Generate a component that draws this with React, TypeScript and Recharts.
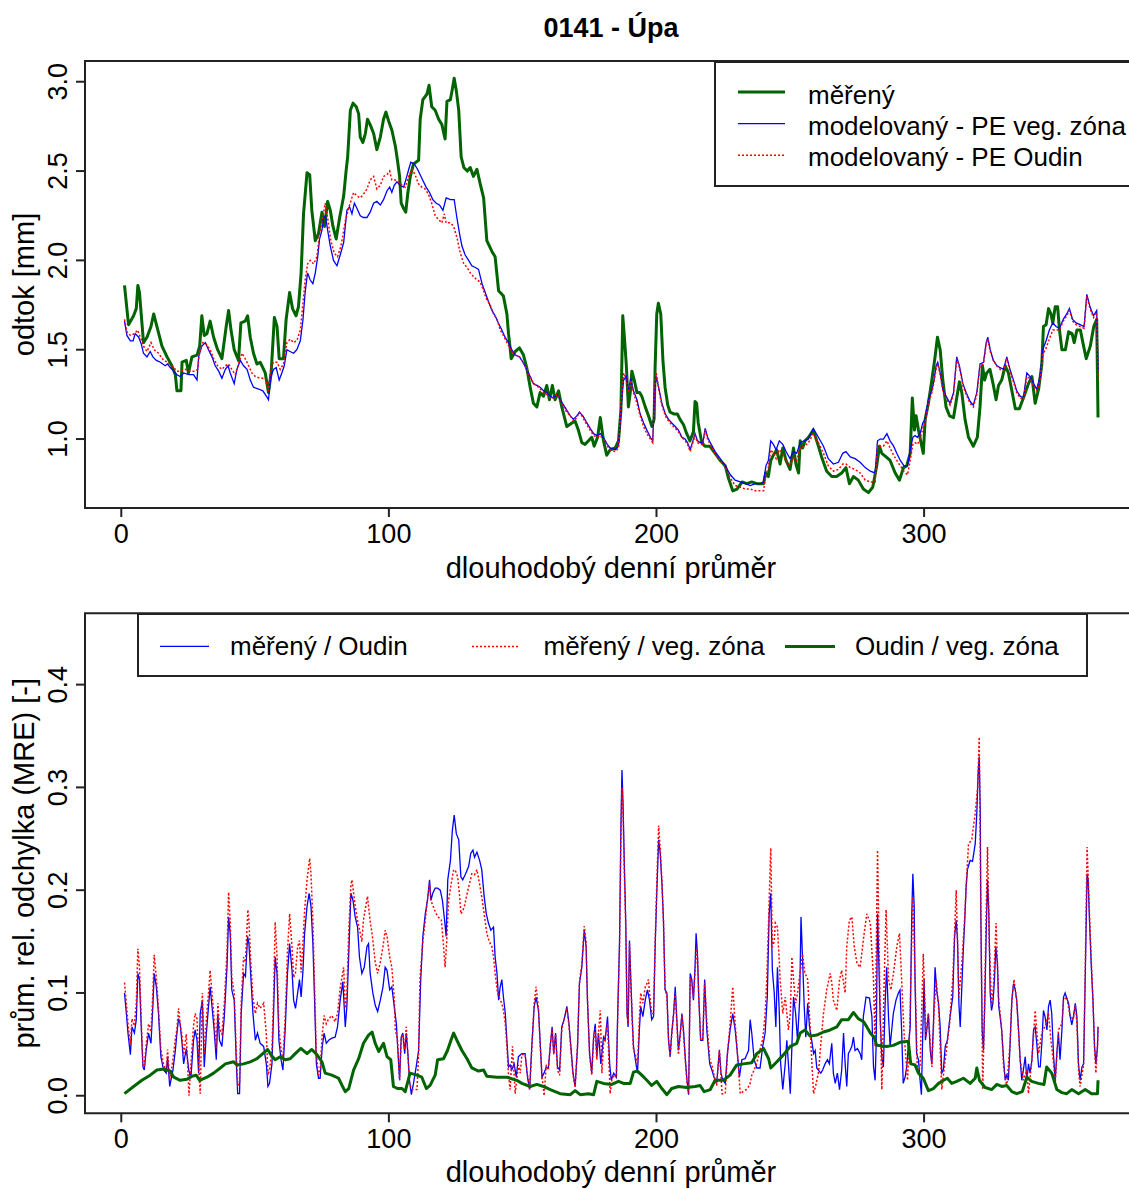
import React from "react";
import { LineChart, Line, XAxis, YAxis, ReferenceArea, Legend } from "recharts";

const FONT = '"Liberation Sans", Arial, sans-serif';
const GREEN = "#006400";
const BLUE = "#0000FF";
const RED = "#FF0000";
const INK = "#222";

// top panel: long-term daily mean runoff [day, mm]
const measured: [number, number][] = [
  [1.2,1.86],[2.7,1.64],[4.6,1.69],[5.6,1.73],[6.2,1.86],[6.8,1.82],[7.5,1.69],[8.3,1.54],[9.6,1.57],[11.1,1.63],[12.1,1.70],[13.3,1.63],[15.2,1.52],[17.1,1.46],[18.9,1.41],[20.2,1.36],[20.8,1.27],[22.3,1.27],[22.7,1.43],[24.3,1.44],[25.1,1.37],[26.4,1.46],[28.3,1.47],[29.3,1.52],[30.1,1.69],[31,1.58],[32,1.59],[33.2,1.66],[34.5,1.57],[36,1.50],[37.6,1.45],[39.2,1.63],[40.1,1.72],[41,1.61],[42.2,1.50],[43.8,1.44],[44.7,1.65],[46.3,1.66],[47.2,1.69],[48.2,1.57],[49.4,1.48],[50.7,1.42],[51.9,1.43],[53.8,1.37],[55,1.26],[56,1.37],[57.2,1.68],[58.2,1.63],[59,1.45],[60.6,1.45],[61.6,1.67],[62.9,1.82],[64,1.73],[65.3,1.69],[66.2,1.74],[67.2,1.93],[68.1,2.26],[69.4,2.49],[70.4,2.48],[71.2,2.28],[72.5,2.11],[73.7,2.15],[75,2.27],[76,2.19],[77.1,2.33],[78.1,2.28],[79.1,2.19],[80.3,2.12],[81.6,2.24],[83.1,2.36],[84,2.50],[84.6,2.58],[85.6,2.84],[86.6,2.88],[87.8,2.86],[88.7,2.82],[89.3,2.69],[90.3,2.66],[91.2,2.71],[92,2.79],[93,2.76],[94.3,2.71],[95.5,2.62],[96.8,2.69],[98,2.79],[98.9,2.83],[99.9,2.78],[101.1,2.73],[102.4,2.64],[103.2,2.56],[104,2.47],[104.6,2.32],[105.5,2.29],[106.3,2.27],[107.1,2.38],[108,2.47],[109.2,2.54],[111.1,2.56],[111.7,2.79],[112.7,2.90],[114.2,2.93],[115,2.98],[116,2.86],[117.3,2.84],[118.6,2.79],[119.8,2.76],[121,2.68],[121.7,2.89],[123,2.90],[123.6,2.95],[124.4,3.02],[125.2,2.95],[126.1,2.84],[127,2.58],[128,2.52],[129.3,2.50],[130.4,2.52],[131.6,2.47],[132.9,2.51],[134.1,2.43],[135.4,2.35],[136.6,2.11],[138.5,2.05],[139.7,2.02],[141,1.83],[142.8,1.80],[144.1,1.70],[144.7,1.59],[145.3,1.51],[145.7,1.45],[147.2,1.49],[148.8,1.51],[150.3,1.47],[151.5,1.40],[152.8,1.29],[154,1.20],[155.3,1.18],[156.5,1.26],[157.8,1.24],[159,1.30],[160,1.22],[161.1,1.30],[162.1,1.22],[163.4,1.27],[164.6,1.18],[166.5,1.07],[168.4,1.09],[169.6,1.10],[170.8,1.05],[172.1,0.98],[173.3,0.97],[174.6,0.99],[175.8,1.01],[176.7,0.96],[178,1.01],[179,1.12],[180.2,0.99],[181.4,0.91],[182.7,0.94],[184.6,0.95],[185.8,0.99],[186.7,1.16],[187.4,1.69],[188,1.57],[188.7,1.42],[189.5,1.18],[190.2,1.26],[190.8,1.38],[191.7,1.33],[192.7,1.26],[193.7,1.26],[194.5,1.24],[195.8,1.18],[197,1.13],[198.3,1.07],[199.1,1.11],[199.5,1.41],[200.1,1.70],[200.7,1.76],[201.6,1.70],[202.4,1.44],[203.2,1.29],[204.2,1.19],[205.1,1.15],[206.6,1.14],[207.8,1.14],[208.8,1.11],[210.1,1.08],[211.3,1.03],[212.5,0.99],[213.8,1.04],[214.4,1.21],[215,1.20],[215.6,1.09],[216.9,0.98],[218.1,0.96],[219.9,0.96],[221.9,0.92],[223.8,0.88],[225.7,0.85],[226.9,0.78],[228.5,0.71],[230.1,0.72],[232,0.76],[233.8,0.75],[235.6,0.76],[237.5,0.75],[240,0.75],[240.8,0.81],[241.8,0.79],[242.7,0.88],[243.7,0.91],[244.9,0.94],[246.2,0.86],[247.2,0.95],[248.4,0.88],[249.9,0.83],[251.2,0.95],[252.1,0.86],[253.1,0.81],[253.7,0.99],[254.6,0.95],[255.5,0.99],[256.8,1.01],[258.6,1.05],[260.1,0.98],[261.7,0.90],[263.6,0.82],[265.5,0.79],[267.3,0.79],[269.2,0.81],[270.8,0.84],[272.1,0.75],[273.6,0.79],[275.4,0.77],[277.3,0.72],[279.2,0.70],[280.8,0.73],[282.3,0.85],[283.3,0.96],[284.2,0.92],[285.8,0.90],[287.3,0.88],[289.2,0.81],[290.8,0.77],[292.3,0.84],[293.5,0.85],[294.8,0.92],[295.6,1.23],[296.4,1.05],[297,1.13],[297.9,1.05],[298.7,0.99],[299.7,0.92],[300.4,1.11],[301.6,1.20],[302.9,1.33],[304.1,1.46],[305,1.57],[306,1.50],[307,1.33],[308.2,1.18],[309.5,1.13],[311,1.12],[312.3,1.24],[313.2,1.32],[314.1,1.26],[315.3,1.11],[316.6,1.01],[318.4,0.96],[319.9,1.01],[320.9,1.18],[321.8,1.41],[322.6,1.33],[323.4,1.37],[324.6,1.39],[325.9,1.30],[326.9,1.22],[327.8,1.30],[329,1.33],[330.3,1.41],[331.5,1.37],[332.8,1.27],[334.1,1.17],[335.6,1.17],[337.1,1.23],[339,1.31],[340.3,1.35],[341.5,1.20],[342.8,1.28],[344,1.42],[344.6,1.63],[345.6,1.64],[346.5,1.73],[347.4,1.70],[348.1,1.65],[349,1.74],[349.9,1.74],[350.6,1.61],[351.5,1.50],[352.8,1.50],[354,1.60],[355.3,1.59],[356.1,1.54],[357.1,1.61],[358.4,1.61],[359.6,1.52],[360.6,1.45],[362.1,1.52],[363.4,1.63],[364.5,1.67],[365,1.12],
];

const modelVeg: [number, number][] = [
  [1.2,1.66],[2.1,1.58],[3.4,1.55],[4.4,1.55],[5.2,1.59],[6.5,1.57],[7.5,1.53],[8.3,1.48],[9.6,1.46],[10.8,1.49],[11.8,1.46],[13.1,1.44],[14.6,1.43],[16.4,1.41],[17.3,1.42],[18.3,1.40],[19.6,1.38],[20.8,1.36],[22,1.35],[23.3,1.37],[25.2,1.36],[27,1.36],[28.3,1.33],[28.9,1.46],[30.1,1.52],[31.4,1.54],[32.6,1.50],[33.9,1.46],[35.1,1.41],[36.4,1.38],[37.6,1.34],[38.9,1.39],[39.9,1.41],[40.7,1.37],[42.2,1.31],[43.2,1.39],[44.5,1.44],[45.7,1.41],[47,1.39],[48.2,1.33],[49.4,1.29],[51.3,1.28],[52.9,1.27],[54.2,1.24],[55,1.22],[55.9,1.35],[56.9,1.39],[57.9,1.40],[59,1.33],[60,1.37],[60.9,1.41],[61.9,1.50],[63.1,1.49],[64.4,1.48],[65.6,1.50],[66.9,1.55],[67.9,1.67],[68.7,1.82],[69.6,1.93],[70.6,1.89],[71.6,1.87],[72.5,1.93],[73.4,2.02],[74.1,2.12],[75,2.17],[75.6,2.24],[76.3,2.25],[77.1,2.17],[78.1,2.08],[79.3,2.00],[80.6,1.97],[81.8,2.03],[83.1,2.10],[84.3,2.28],[85.3,2.30],[86.2,2.26],[87.1,2.32],[88.1,2.29],[89.3,2.25],[90.5,2.24],[91.8,2.24],[93,2.27],[94.3,2.32],[95.5,2.33],[96.8,2.31],[98,2.34],[99.3,2.39],[100.3,2.41],[101.1,2.38],[102,2.42],[103,2.44],[104.2,2.42],[105.5,2.41],[106.7,2.47],[107.6,2.52],[108.2,2.55],[109.5,2.54],[110.7,2.51],[112.3,2.46],[113.9,2.41],[115.2,2.38],[116.4,2.34],[117.7,2.32],[118.9,2.31],[120.2,2.28],[121.4,2.35],[123,2.34],[124.4,2.34],[125.4,2.24],[126.4,2.15],[127.3,2.08],[128.5,2.03],[129.8,2.00],[131,1.97],[132.3,1.96],[133.5,1.95],[134.8,1.87],[136,1.82],[137.2,1.77],[138.5,1.72],[139.7,1.69],[140.9,1.65],[142.2,1.61],[143.4,1.57],[144.7,1.54],[145.9,1.50],[147.2,1.47],[148.8,1.46],[150.1,1.43],[151.5,1.39],[152.8,1.35],[154,1.31],[155.3,1.30],[156.5,1.29],[157.8,1.27],[159,1.26],[160.3,1.24],[161.5,1.23],[162.8,1.25],[164,1.22],[165.3,1.19],[166.5,1.16],[167.8,1.13],[169,1.11],[170.2,1.13],[171.2,1.15],[172.5,1.13],[174,1.09],[175.2,1.06],[176.5,1.03],[177.7,1.02],[179,1.03],[180.5,1.00],[181.6,0.97],[182.7,0.95],[184.6,0.94],[185.8,0.96],[186.7,1.16],[187.7,1.33],[188.7,1.35],[189.5,1.27],[190.4,1.34],[191.4,1.27],[192.7,1.22],[193.9,1.14],[195.2,1.09],[196.4,1.05],[197.7,1.01],[198.6,0.99],[199.3,1.27],[199.9,1.35],[200.8,1.29],[202,1.20],[203.3,1.14],[204.5,1.11],[205.7,1.09],[207,1.07],[208.2,1.05],[209.5,1.01],[210.7,1.00],[211.6,0.98],[212.6,0.94],[213.6,0.99],[214.4,1.03],[215.3,0.99],[216.3,0.98],[217.3,0.98],[218.2,1.06],[219.1,1.01],[220.1,0.98],[221.9,0.93],[223.8,0.89],[225.7,0.85],[227.6,0.80],[229.4,0.77],[231.3,0.76],[233.2,0.75],[235.1,0.74],[236.9,0.75],[238.8,0.75],[240,0.76],[240.9,0.85],[241.8,0.88],[242.7,0.99],[243.7,0.97],[244.7,0.94],[245.9,0.99],[247.2,0.97],[248.4,0.93],[249.9,0.89],[251.2,0.93],[252.4,0.92],[253.7,0.98],[255.2,0.99],[256.8,1.00],[258.6,1.06],[260.5,1.01],[262.4,0.96],[264.2,0.89],[266.1,0.86],[268,0.87],[269.6,0.92],[270.8,0.93],[272.4,0.90],[274.2,0.89],[276.1,0.87],[278,0.84],[279.9,0.82],[281.7,0.81],[282.6,0.99],[283.6,1.00],[284.8,1.00],[286.1,1.03],[287.3,0.99],[288.6,0.96],[289.8,0.92],[291.1,0.88],[292.5,0.85],[293.8,0.85],[294.8,0.94],[295.8,1.01],[296.6,1.02],[297.5,1.01],[298.5,1.03],[299.5,1.09],[300.4,1.11],[301.6,1.22],[302.9,1.27],[303.7,1.33],[304.5,1.41],[305.1,1.43],[306,1.37],[307,1.28],[308.2,1.24],[309.7,1.20],[311,1.26],[312.2,1.46],[313.2,1.41],[314.5,1.31],[315.7,1.26],[317.2,1.21],[318.4,1.19],[319.7,1.26],[320.9,1.42],[322.2,1.43],[323.2,1.54],[323.8,1.57],[324.7,1.50],[325.9,1.44],[327.2,1.41],[328.4,1.40],[329.7,1.39],[330.9,1.46],[332.1,1.39],[333.4,1.33],[334.6,1.27],[335.9,1.24],[337.1,1.23],[338.4,1.37],[339.6,1.35],[340.9,1.31],[342.1,1.28],[343.4,1.35],[344.3,1.50],[345.6,1.55],[346.8,1.61],[348.1,1.65],[349.3,1.63],[350.6,1.62],[352,1.67],[353.3,1.70],[354.3,1.73],[355.5,1.67],[356.8,1.65],[358.3,1.64],[359.8,1.63],[360.8,1.81],[362,1.74],[363.3,1.69],[364.5,1.72],[365,1.38],
];

const modelOudin: [number, number][] = [
  [1.2,1.67],[2.1,1.60],[3.4,1.58],[5,1.59],[6.1,1.61],[7.1,1.57],[8.3,1.52],[9.6,1.49],[11.1,1.54],[12.3,1.50],[13.9,1.48],[15.8,1.44],[17.3,1.43],[18.9,1.41],[20.8,1.38],[22,1.38],[23.9,1.39],[25.8,1.38],[27.6,1.38],[28.5,1.39],[29.3,1.49],[30.5,1.54],[31.8,1.53],[33.2,1.50],[34.5,1.45],[36,1.41],[37.6,1.39],[38.9,1.41],[40.1,1.42],[41.3,1.39],[42.6,1.36],[43.8,1.42],[45.1,1.48],[46.3,1.45],[47.6,1.41],[48.8,1.37],[50.1,1.35],[51.9,1.34],[53.8,1.34],[55,1.27],[55.9,1.40],[56.9,1.43],[58.2,1.43],[59.4,1.39],[60.6,1.42],[61.9,1.54],[63.1,1.56],[64.4,1.54],[65.6,1.55],[66.9,1.61],[67.9,1.76],[68.7,1.89],[69.6,1.98],[70.6,2.00],[71.9,1.98],[73.1,2.02],[74.1,2.15],[75.3,2.24],[76.2,2.32],[77.1,2.24],[78.3,2.11],[79.6,2.04],[80.8,2.02],[82.1,2.08],[83.7,2.22],[85.1,2.30],[86.8,2.38],[88.1,2.36],[89.3,2.35],[90.5,2.37],[91.8,2.40],[93,2.45],[94.3,2.47],[95.5,2.40],[96.8,2.42],[98,2.47],[99.3,2.48],[100.3,2.50],[101.1,2.45],[102.4,2.45],[103.7,2.44],[104.9,2.42],[106.1,2.41],[107.4,2.47],[108.6,2.51],[109.8,2.48],[111,2.43],[112.3,2.41],[113.5,2.40],[114.8,2.37],[116,2.32],[117.3,2.25],[118.5,2.23],[119.8,2.21],[120.7,2.26],[121.4,2.21],[123,2.21],[124.2,2.19],[125.4,2.13],[126.7,2.04],[128,1.98],[129.3,1.96],[130.4,1.93],[131.6,1.91],[132.9,1.89],[134.1,1.88],[135.4,1.83],[136.6,1.78],[137.9,1.75],[139.1,1.70],[140.4,1.67],[141.6,1.61],[142.8,1.58],[144.1,1.54],[145.9,1.49],[147.2,1.47],[148.8,1.46],[150.1,1.43],[151.5,1.39],[152.8,1.35],[154,1.31],[155.3,1.30],[156.5,1.28],[157.8,1.26],[159,1.25],[160.3,1.23],[161.5,1.23],[162.8,1.25],[164,1.21],[165.3,1.18],[166.5,1.15],[167.8,1.13],[169,1.10],[170.2,1.12],[171.2,1.15],[172.5,1.12],[174,1.08],[175.2,1.05],[176.5,1.02],[177.7,1.01],[179,1.02],[180.5,0.99],[181.6,0.96],[182.7,0.94],[184.6,0.93],[185.8,0.95],[186.7,1.18],[187.7,1.37],[188.7,1.33],[189.5,1.26],[190.4,1.33],[191.4,1.26],[192.7,1.20],[193.9,1.13],[195.2,1.07],[196.4,1.03],[197.7,1.00],[198.6,0.98],[199.3,1.28],[199.9,1.37],[200.8,1.28],[202,1.19],[203.3,1.13],[204.5,1.10],[205.7,1.08],[207,1.06],[208.2,1.04],[209.5,1.01],[210.7,0.99],[211.6,0.97],[212.6,0.93],[213.6,0.98],[214.4,1.02],[215.3,0.98],[216.3,0.97],[217.3,0.97],[218.2,1.05],[219.1,1.00],[220.1,0.97],[221.9,0.92],[223.8,0.88],[225.7,0.84],[227.6,0.78],[229.4,0.74],[231.3,0.73],[233.2,0.72],[235.1,0.72],[236.9,0.71],[238.8,0.71],[240,0.71],[240.9,0.80],[241.8,0.84],[242.7,0.94],[243.7,0.92],[244.7,0.89],[245.9,0.94],[247.2,0.92],[248.4,0.88],[249.9,0.85],[251.2,0.90],[252.4,0.88],[253.7,0.95],[255.2,0.96],[256.8,0.98],[258.6,1.03],[260.5,0.98],[262.4,0.92],[264.2,0.85],[266.1,0.82],[268,0.83],[269.6,0.86],[270.8,0.86],[272.4,0.84],[274.2,0.83],[276.1,0.81],[278,0.77],[279.9,0.76],[281.7,0.76],[282.6,0.97],[283.6,0.96],[284.8,0.96],[286.1,0.99],[287.3,0.95],[288.6,0.91],[289.8,0.88],[291.1,0.85],[292.5,0.82],[293.8,0.80],[294.8,0.88],[295.8,0.97],[296.6,0.98],[297.5,0.97],[298.5,1.00],[299.5,1.06],[300.4,1.09],[301.6,1.20],[302.9,1.26],[303.7,1.32],[304.5,1.39],[305.1,1.42],[306,1.36],[307,1.27],[308.2,1.23],[309.7,1.19],[311,1.25],[312.2,1.45],[313.2,1.40],[314.5,1.30],[315.7,1.25],[317.2,1.20],[318.4,1.18],[319.7,1.25],[320.9,1.41],[322.2,1.42],[323.2,1.53],[323.8,1.56],[324.7,1.49],[325.9,1.44],[327.2,1.41],[328.4,1.39],[329.7,1.38],[330.9,1.45],[332.1,1.38],[333.4,1.32],[334.6,1.26],[335.9,1.23],[337.1,1.22],[338.4,1.35],[339.6,1.34],[340.9,1.30],[342.1,1.27],[343.4,1.33],[344.3,1.47],[345.6,1.51],[346.8,1.56],[348.1,1.61],[349.3,1.61],[350.6,1.61],[352,1.66],[353.3,1.69],[354.3,1.72],[355.5,1.66],[356.8,1.64],[358.3,1.63],[359.8,1.62],[360.8,1.80],[362,1.73],[363.3,1.68],[364.5,1.71],[365,1.34],
];

// bottom panel: mean relative error [day, MRE]
const mreMeasOudin: [number, number][] = [
  [1.2,0.100],[1.9,0.080],[2.5,0.061],[3.4,0.040],[4,0.067],[4.9,0.061],[5.6,0.074],[6.2,0.119],[6.8,0.113],[7.5,0.064],[8.1,0.028],[8.6,0.025],[9.3,0.044],[10.2,0.061],[11.1,0.051],[11.8,0.087],[12.3,0.119],[13.1,0.106],[13.9,0.080],[14.8,0.038],[15.8,0.025],[16.8,0.022],[17.3,0.038],[18.1,0.009],[19.3,0.025],[20.2,0.044],[20.8,0.061],[21.4,0.075],[22,0.070],[22.7,0.051],[23.3,0.031],[24.3,0.046],[25.2,0.025],[26,0.017],[27,0.054],[27.6,0.064],[28.3,0.054],[28.9,0.022],[29.5,0.080],[30.3,0.093],[31,0.028],[31.8,0.061],[32.6,0.087],[33.2,0.106],[33.9,0.087],[34.7,0.064],[35.5,0.035],[36.1,0.080],[36.7,0.054],[37.6,0.048],[38.5,0.077],[39.5,0.125],[40.1,0.174],[40.7,0.158],[41.3,0.103],[42.2,0.093],[43,0.031],[43.5,0.002],[44.2,0.002],[44.8,0.080],[45.7,0.119],[46.4,0.116],[47.2,0.155],[47.7,0.148],[48.4,0.116],[49.2,0.080],[50.1,0.054],[50.9,0.061],[51.9,0.051],[53.2,0.048],[54.2,0.031],[54.8,0.009],[55.4,0.012],[56.3,0.031],[56.9,0.080],[57.5,0.135],[58.2,0.119],[58.9,0.054],[59.7,0.035],[60.4,0.025],[61.3,0.067],[62.1,0.119],[62.9,0.148],[63.8,0.122],[64.4,0.093],[65.1,0.085],[65.9,0.100],[66.6,0.113],[67.2,0.096],[67.9,0.122],[68.5,0.158],[69.4,0.184],[70.2,0.197],[70.9,0.184],[71.6,0.148],[72.2,0.096],[72.9,0.031],[73.7,0.017],[74.3,0.017],[75.1,0.048],[75.8,0.061],[76.6,0.051],[77.5,0.054],[78.7,0.056],[79.9,0.057],[80.8,0.067],[81.8,0.093],[82.8,0.111],[83.7,0.067],[84.3,0.087],[85,0.138],[85.8,0.197],[86.6,0.190],[87.4,0.174],[88.3,0.164],[89,0.135],[89.9,0.119],[90.8,0.125],[91.8,0.145],[92.4,0.148],[93,0.119],[94,0.100],[94.9,0.088],[95.8,0.082],[96.8,0.093],[97.8,0.106],[98.6,0.125],[99.3,0.122],[100.3,0.103],[101.1,0.106],[102,0.087],[102.8,0.070],[103.2,0.051],[104,0.015],[104.6,0.057],[105.2,0.061],[105.9,0.041],[106.5,0.061],[107.1,0.041],[107.7,0.015],[108.4,0.001],[109.2,0.012],[110.2,0.028],[111.1,0.044],[111.9,0.113],[112.7,0.155],[113.6,0.177],[114.4,0.190],[115.2,0.210],[115.7,0.190],[116.4,0.197],[117.3,0.202],[118.2,0.202],[119.2,0.200],[120,0.190],[120.8,0.171],[121.4,0.155],[122,0.210],[123,0.229],[123.7,0.258],[124.4,0.273],[125.2,0.255],[126.1,0.249],[126.9,0.213],[127.6,0.210],[128.5,0.215],[129.8,0.223],[130.6,0.236],[131.4,0.239],[132,0.232],[132.9,0.237],[133.9,0.229],[134.7,0.220],[135.6,0.194],[136.4,0.177],[137.2,0.168],[138.1,0.161],[139.1,0.164],[139.7,0.135],[140.4,0.119],[141,0.093],[141.6,0.106],[142.2,0.113],[142.8,0.096],[143.5,0.080],[144.1,0.054],[144.7,0.028],[145.3,0.030],[145.9,0.025],[146.8,0.031],[147.6,0.018],[148.4,0.038],[149.7,0.041],[150.9,0.041],[151.8,0.018],[152.6,0.006],[153.4,0.048],[154.3,0.087],[155,0.096],[155.9,0.083],[156.5,0.054],[157.2,0.018],[158,0.022],[158.8,0.028],[159.6,0.027],[160.3,0.048],[161,0.067],[161.6,0.041],[162.3,0.061],[163,0.028],[163.8,0.025],[164.6,0.067],[165.5,0.074],[166.5,0.087],[167.3,0.070],[168,0.048],[168.8,0.022],[169.6,0.009],[170.5,0.048],[171.2,0.109],[172.1,0.125],[173,0.161],[173.7,0.145],[174.2,0.093],[175,0.041],[175.8,0.022],[176.5,0.057],[177.1,0.070],[177.7,0.038],[178.3,0.061],[179.2,0.031],[180.2,0.057],[180.8,0.054],[181.7,0.077],[182.5,0.031],[183.1,0.015],[184,0.022],[185,0.018],[185.5,0.080],[186.2,0.151],[186.7,0.262],[187.1,0.317],[187.5,0.284],[188,0.223],[188.5,0.171],[189,0.080],[189.4,0.067],[189.9,0.151],[190.4,0.113],[190.9,0.077],[191.4,0.048],[192.1,0.035],[192.9,0.022],[193.6,0.064],[194.1,0.087],[194.9,0.077],[195.8,0.093],[196.6,0.103],[197.4,0.093],[198.2,0.074],[198.9,0.077],[199.5,0.145],[200.1,0.197],[200.8,0.249],[201.4,0.236],[202.1,0.203],[202.6,0.171],[203.2,0.103],[203.9,0.100],[204.5,0.054],[205.1,0.038],[205.7,0.061],[206.4,0.080],[207,0.106],[207.6,0.074],[208.2,0.044],[208.9,0.061],[209.5,0.080],[210.1,0.064],[210.8,0.035],[211.4,0.015],[212,0.001],[212.6,0.119],[213.2,0.113],[213.8,0.093],[214.4,0.125],[214.8,0.158],[215.3,0.138],[215.8,0.096],[216.5,0.054],[217.3,0.054],[218,0.113],[218.8,0.064],[219.9,0.031],[220.7,0.025],[221.5,0.018],[222.5,0.012],[223.5,0.044],[224.1,0.022],[224.8,0.015],[225.7,0.012],[226.5,0.041],[227.5,0.064],[228.5,0.080],[229.4,0.064],[230,0.048],[231,0.018],[231.9,0.035],[233.1,0.036],[234.4,0.044],[235,0.074],[235.6,0.061],[236.5,0.035],[237.5,0.027],[238.7,0.027],[239.7,0.048],[240.6,0.061],[241.4,0.096],[242.1,0.177],[242.7,0.197],[243.3,0.122],[244,0.100],[244.6,0.067],[245.2,0.125],[245.9,0.080],[246.4,0.031],[247.2,0.006],[248.1,0.031],[248.7,0.054],[249.3,0.031],[250,0.002],[250.6,0.048],[251.2,0.096],[252,0.080],[252.7,0.054],[253.5,0.093],[254,0.174],[254.6,0.132],[255.2,0.087],[255.8,0.057],[256.5,0.090],[257.2,0.067],[258,0.054],[258.7,0.041],[259.3,0.044],[259.9,0.027],[260.5,0.025],[261.4,0.022],[262.1,0.025],[263,0.031],[263.9,0.035],[264.6,0.031],[265.5,0.051],[266.1,0.022],[266.8,0.012],[267.6,0.022],[268.4,0.006],[269.2,0.025],[269.9,0.061],[270.5,0.031],[271.1,0.009],[271.7,0.041],[272.3,0.044],[273,0.048],[273.6,0.057],[274.2,0.044],[275.1,0.046],[276.1,0.041],[276.7,0.035],[277.3,0.077],[278.3,0.096],[279.6,0.095],[280.5,0.077],[281.1,0.028],[281.7,0.015],[282.1,0.051],[282.6,0.177],[283.1,0.129],[283.6,0.074],[284.2,0.038],[284.8,0.028],[285.4,0.087],[286,0.125],[286.7,0.077],[287.3,0.048],[287.9,0.064],[288.5,0.080],[289.5,0.093],[290.4,0.100],[291,0.103],[291.6,0.064],[292.2,0.012],[292.9,0.018],[293.5,0.028],[294.1,0.048],[294.8,0.067],[295.4,0.177],[295.8,0.216],[296.3,0.184],[296.6,0.113],[297.2,0.041],[297.9,0.035],[298.5,0.015],[299,0.001],[299.5,0.061],[300,0.113],[300.5,0.054],[301,0.064],[301.6,0.080],[302.3,0.044],[302.9,0.031],[303.5,0.070],[304.1,0.125],[304.8,0.100],[305.4,0.090],[306,0.067],[306.6,0.022],[307.2,0.025],[307.9,0.048],[308.7,0.054],[309.7,0.077],[310.7,0.096],[311.4,0.155],[312,0.171],[312.5,0.151],[313,0.090],[313.5,0.067],[314.1,0.106],[314.7,0.145],[315.2,0.171],[315.7,0.203],[316.2,0.220],[317.2,0.229],[318.1,0.228],[319.1,0.245],[319.7,0.275],[320.2,0.314],[320.6,0.330],[321,0.275],[321.2,0.177],[321.7,0.064],[322.2,0.044],[322.7,0.093],[323.2,0.158],[323.7,0.210],[324.2,0.177],[324.7,0.100],[325.2,0.083],[325.7,0.090],[326.3,0.113],[326.8,0.145],[327.4,0.129],[327.9,0.087],[328.4,0.077],[329,0.064],[329.7,0.035],[330.3,0.015],[330.9,0.020],[331.5,0.015],[332.1,0.048],[332.8,0.093],[333.4,0.109],[334,0.104],[334.6,0.093],[335.3,0.064],[335.9,0.035],[336.5,0.015],[337.1,0.025],[337.8,0.038],[338.4,0.015],[339,0.031],[339.6,0.022],[340.3,0.035],[340.9,0.064],[341.5,0.067],[342.1,0.051],[342.8,0.028],[343.4,0.028],[344,0.051],[344.6,0.083],[345.2,0.077],[345.9,0.064],[346.5,0.087],[347.1,0.093],[347.7,0.080],[348.4,0.038],[349,0.015],[349.6,0.041],[350.2,0.061],[350.8,0.035],[351.5,0.064],[352.1,0.096],[352.7,0.100],[353.3,0.095],[354,0.090],[354.6,0.077],[355.2,0.069],[355.8,0.077],[356.5,0.090],[357.1,0.077],[357.7,0.031],[358.3,0.015],[359,0.028],[359.6,0.031],[360.2,0.113],[360.9,0.216],[361.3,0.210],[361.8,0.171],[362.5,0.125],[363.1,0.093],[363.7,0.048],[364.2,0.031],[364.8,0.048],[365,0.067],
];

const mreMeasVeg: [number, number][] = [
  [1.2,0.110],[1.9,0.090],[2.5,0.070],[3.4,0.050],[4,0.075],[4.9,0.068],[5.6,0.090],[6.2,0.143],[6.8,0.125],[7.5,0.070],[8.1,0.030],[8.6,0.028],[9.3,0.050],[10.2,0.070],[11.1,0.062],[11.8,0.100],[12.3,0.137],[13.1,0.115],[13.9,0.085],[14.8,0.045],[15.8,0.030],[16.8,0.025],[17.3,0.045],[18.1,0.015],[19.3,0.035],[20.2,0.055],[20.8,0.065],[21.4,0.085],[22,0.070],[22.7,0.058],[23.3,0.040],[24.3,0.060],[25.3,0.000],[26,0.030],[27,0.068],[27.6,0.080],[28.3,0.075],[28.9,0.030],[29.5,0.002],[30.3,0.100],[31,0.040],[31.8,0.075],[32.6,0.100],[33.2,0.122],[33.9,0.100],[34.7,0.075],[35.5,0.045],[36.1,0.090],[36.7,0.065],[37.6,0.060],[38.5,0.090],[39.5,0.140],[40.1,0.198],[40.7,0.170],[41.3,0.115],[42.2,0.100],[43,0.040],[43.5,0.010],[44.2,0.012],[44.8,0.090],[45.7,0.135],[46.4,0.130],[47.3,0.181],[47.7,0.170],[48.4,0.130],[49.2,0.095],[50.1,0.080],[50.9,0.090],[51.9,0.085],[53.2,0.090],[54.2,0.060],[54.8,0.020],[55.4,0.025],[56.3,0.045],[56.9,0.095],[57.5,0.169],[58.2,0.135],[58.9,0.065],[59.7,0.045],[60.4,0.035],[61.3,0.080],[62.1,0.140],[62.9,0.177],[63.8,0.145],[64.4,0.115],[65.1,0.120],[65.9,0.145],[66.6,0.151],[67.2,0.120],[67.9,0.150],[68.5,0.180],[69.4,0.210],[70.4,0.231],[70.9,0.215],[71.6,0.170],[72.2,0.110],[72.9,0.040],[73.7,0.020],[74.3,0.025],[75.1,0.060],[75.8,0.078],[76.6,0.070],[77.5,0.075],[78.7,0.078],[79.9,0.072],[80.8,0.080],[81.8,0.105],[83.1,0.125],[83.7,0.085],[84.3,0.100],[85,0.160],[85.8,0.205],[86.2,0.210],[87.4,0.185],[88.3,0.170],[89,0.162],[89.9,0.150],[90.5,0.171],[91.4,0.185],[92,0.194],[93,0.170],[93.7,0.158],[94.9,0.130],[95.8,0.119],[96.8,0.130],[97.8,0.145],[98.6,0.161],[99.3,0.155],[100.3,0.135],[101.1,0.125],[102,0.095],[102.4,0.064],[103.2,0.055],[104,0.015],[104.6,0.055],[105.2,0.060],[105.9,0.045],[106.5,0.067],[107.1,0.040],[107.7,0.012],[108.6,0.006],[109.5,0.006],[110.5,0.006],[111.1,0.040],[111.6,0.113],[112.7,0.150],[113.6,0.171],[114.4,0.190],[115.2,0.207],[115.7,0.190],[116.6,0.184],[117.5,0.178],[118.4,0.174],[119.6,0.171],[120.3,0.150],[121,0.125],[121.6,0.150],[122.3,0.190],[123.2,0.205],[124.2,0.220],[125,0.218],[125.7,0.213],[126.4,0.195],[126.9,0.177],[127.6,0.180],[128.2,0.184],[129.1,0.195],[129.8,0.203],[131,0.216],[132,0.215],[132.9,0.220],[134.1,0.203],[134.9,0.190],[135.6,0.177],[136.6,0.158],[137.5,0.150],[138.5,0.145],[139.1,0.135],[139.7,0.119],[140.6,0.100],[141.6,0.093],[142.2,0.090],[142.8,0.083],[143.5,0.070],[144.1,0.048],[144.7,0.020],[145.3,0.006],[146.2,0.048],[147.2,0.002],[148.4,0.030],[149.1,0.022],[149.7,0.040],[150.9,0.040],[151.8,0.020],[152.6,0.006],[153.4,0.045],[154.3,0.090],[155,0.106],[155.9,0.085],[156.5,0.050],[157.2,0.020],[158,0.000],[158.8,0.030],[159.6,0.025],[160.3,0.050],[161,0.065],[161.6,0.040],[162.3,0.060],[163,0.025],[163.8,0.020],[164.6,0.065],[165.5,0.075],[166.5,0.085],[167.3,0.068],[168,0.045],[168.8,0.020],[169.6,0.008],[170.5,0.050],[171.2,0.110],[172.1,0.128],[173,0.165],[173.7,0.150],[174.2,0.095],[175,0.040],[175.8,0.020],[176.5,0.055],[177.1,0.065],[177.7,0.035],[178.3,0.060],[179,0.083],[179.6,0.022],[180.2,0.050],[181,0.060],[181.7,0.070],[182.7,0.002],[183.3,0.015],[184,0.020],[185,0.018],[185.5,0.075],[186.2,0.145],[186.7,0.250],[187.1,0.300],[187.5,0.275],[188,0.215],[188.5,0.165],[189,0.080],[189.4,0.070],[189.9,0.148],[190.4,0.110],[190.9,0.075],[191.4,0.045],[192.1,0.040],[192.9,0.030],[193.6,0.075],[194.1,0.100],[194.9,0.090],[195.8,0.106],[196.6,0.110],[197,0.113],[197.4,0.100],[198.2,0.080],[198.9,0.080],[199.5,0.150],[200.1,0.205],[200.8,0.263],[201.4,0.240],[202.1,0.205],[202.6,0.170],[203.2,0.105],[203.9,0.095],[204.5,0.055],[205.1,0.038],[205.7,0.060],[206.4,0.080],[207,0.100],[207.6,0.070],[208.2,0.040],[208.9,0.060],[209.5,0.078],[210.1,0.060],[210.8,0.033],[211.4,0.012],[212,0.002],[212.6,0.115],[213.2,0.110],[213.8,0.095],[214.4,0.120],[215,0.145],[215.3,0.135],[215.8,0.095],[216.5,0.055],[217.3,0.055],[218,0.110],[218.8,0.073],[219.9,0.035],[220.7,0.030],[221.5,0.020],[222.5,0.010],[223.5,0.045],[224.5,0.002],[225.7,0.002],[226.5,0.040],[227.5,0.070],[228.5,0.106],[229.4,0.070],[230,0.050],[231.3,0.002],[232.3,0.004],[233.5,0.006],[234.8,0.010],[235.6,0.020],[236.5,0.025],[237.5,0.032],[238.7,0.045],[239.7,0.055],[240.6,0.080],[241.2,0.113],[242,0.180],[242.7,0.241],[243.3,0.145],[244,0.150],[244.4,0.168],[245.2,0.164],[245.9,0.130],[246.2,0.113],[247.2,0.080],[248.1,0.096],[248.7,0.080],[249.3,0.064],[250,0.080],[250.6,0.135],[251.3,0.110],[252,0.090],[252.7,0.100],[253.7,0.120],[254.6,0.138],[255.4,0.120],[256.5,0.113],[257.4,0.067],[258.1,0.030],[258.7,0.002],[259.5,0.010],[260.5,0.022],[261.4,0.050],[262.4,0.080],[263.6,0.103],[264.9,0.119],[265.5,0.110],[266.1,0.093],[267.4,0.083],[268.4,0.113],[269.2,0.122],[270.5,0.100],[271.1,0.145],[272.1,0.171],[273,0.174],[273.9,0.145],[274.9,0.129],[276.1,0.125],[277.6,0.158],[278.6,0.177],[279.9,0.168],[281.1,0.113],[281.7,0.048],[282.6,0.239],[283.4,0.113],[284.2,0.006],[285.1,0.113],[285.8,0.181],[286.7,0.113],[287.6,0.103],[288.6,0.120],[289.8,0.145],[290.8,0.158],[291.6,0.113],[292.5,0.061],[293.8,0.015],[294.5,0.054],[295.4,0.151],[295.8,0.194],[296.6,0.119],[297.5,0.022],[298.5,0.028],[299.7,0.138],[300.7,0.057],[301.6,0.080],[302.9,0.028],[303.7,0.080],[304.5,0.113],[305.4,0.087],[306.6,0.006],[307.9,0.035],[309.5,0.070],[310.7,0.113],[312,0.200],[313,0.096],[314.1,0.129],[315.2,0.175],[315.7,0.203],[316.6,0.245],[317.8,0.249],[319.1,0.275],[320,0.300],[320.6,0.349],[321.2,0.177],[321.9,0.006],[322.7,0.100],[323.2,0.177],[323.7,0.242],[324.4,0.145],[325.2,0.087],[325.9,0.106],[326.9,0.168],[327.8,0.096],[329,0.064],[329.7,0.028],[330.9,0.009],[332.1,0.050],[332.8,0.093],[333.6,0.113],[334.6,0.093],[335.9,0.035],[337.1,0.015],[338.4,0.025],[339,0.002],[340.3,0.035],[341.5,0.083],[342.8,0.041],[344,0.061],[345.6,0.070],[346.5,0.080],[347.4,0.054],[348.4,0.031],[349,0.012],[350.2,0.064],[351.5,0.070],[352.1,0.093],[353.3,0.096],[354.6,0.077],[355.8,0.075],[356.5,0.088],[357.1,0.070],[357.7,0.025],[358.3,0.009],[359.6,0.030],[360.2,0.120],[360.9,0.242],[361.3,0.215],[361.8,0.177],[362.5,0.130],[363.1,0.093],[363.7,0.045],[364.2,0.022],[364.8,0.048],[365,0.067],
];

const mreOudinVeg: [number, number][] = [
  [1.2,0.002],[4.6,0.009],[7.7,0.015],[10.8,0.020],[13.3,0.025],[15.8,0.026],[18.3,0.024],[19.6,0.018],[22,0.015],[24.5,0.016],[26.4,0.019],[28,0.020],[29.3,0.015],[32,0.018],[34.5,0.022],[37,0.027],[38.9,0.031],[42,0.033],[43.2,0.030],[45.7,0.031],[48.2,0.033],[50.7,0.036],[52.9,0.041],[54.7,0.045],[55.9,0.040],[57.5,0.035],[59.4,0.038],[61.3,0.035],[63.1,0.036],[65,0.041],[67.1,0.046],[69.4,0.041],[71.2,0.045],[73.1,0.040],[75,0.033],[76.2,0.022],[78.7,0.020],[81.2,0.017],[82.5,0.010],[83.7,0.004],[85,0.007],[86.8,0.025],[88.7,0.036],[90.5,0.051],[92.4,0.059],[93.7,0.062],[94.9,0.051],[96.2,0.043],[98,0.051],[99.3,0.038],[100.7,0.035],[101.7,0.009],[103.2,0.007],[104.9,0.007],[106.1,0.004],[107.9,0.022],[110.5,0.020],[112.3,0.018],[114,0.007],[115.4,0.010],[117.3,0.020],[118.2,0.035],[120.4,0.036],[121.9,0.044],[123.2,0.054],[124.2,0.061],[125.4,0.054],[127.3,0.044],[129.2,0.036],[131,0.027],[133.5,0.024],[135.4,0.025],[136.6,0.019],[140.3,0.018],[144.1,0.018],[147.8,0.015],[149.7,0.012],[152.8,0.009],[155.3,0.011],[157.8,0.009],[160.3,0.006],[164,0.002],[167.8,0.001],[169.6,0.005],[171.5,0.001],[174.6,0.002],[176.5,0.001],[177.7,0.014],[180.2,0.012],[183.3,0.011],[185.8,0.014],[187.7,0.012],[190.2,0.012],[191.4,0.023],[192.9,0.024],[194.5,0.020],[196.4,0.015],[198.2,0.010],[200.1,0.014],[202,0.007],[203.9,0.001],[205.7,0.007],[208.2,0.009],[211.3,0.008],[214.4,0.009],[216.3,0.010],[217.8,0.004],[220.1,0.006],[221.9,0.015],[225,0.015],[227.5,0.020],[230,0.030],[232.5,0.031],[235.6,0.032],[237.5,0.041],[240,0.046],[241.9,0.036],[242.7,0.027],[245,0.033],[247.5,0.040],[250,0.048],[252.4,0.051],[253.7,0.061],[255.5,0.064],[257.4,0.058],[259.9,0.059],[262.4,0.062],[264.9,0.064],[267.4,0.067],[269.2,0.074],[271.7,0.074],[273.6,0.081],[275.4,0.075],[277.4,0.072],[278.6,0.067],[279.9,0.061],[281.3,0.057],[282.3,0.049],[286,0.048],[288.5,0.049],[291,0.052],[294.1,0.053],[295,0.031],[296.6,0.030],[297.9,0.022],[299.7,0.017],[301.6,0.005],[303.5,0.007],[305.4,0.012],[307.3,0.015],[308.7,0.017],[310.3,0.012],[312.2,0.014],[314.7,0.017],[317.2,0.012],[319.1,0.017],[319.7,0.027],[320.7,0.015],[322.8,0.008],[325.3,0.006],[327.2,0.011],[329,0.009],[330.9,0.010],[332.8,0.004],[334.6,0.002],[336.7,0.004],[338.4,0.018],[340.2,0.014],[342.7,0.012],[344.8,0.011],[345.8,0.028],[347.7,0.022],[349.6,0.006],[351.5,0.003],[353.3,0.002],[355.2,0.006],[357.7,0.002],[360.2,0.006],[362.6,0.002],[364.8,0.002],[365,0.015],
];

const xTicks = [0, 100, 200, 300];
const topYTicks = [1.0, 1.5, 2.0, 2.5, 3.0];
const bottomYTicks = [0.0, 0.1, 0.2, 0.3, 0.4];
const topLegendLabels = ["měřený", "modelovaný - PE veg. zóna", "modelovaný - PE Oudin"];
const bottomLegendLabels = ["měřený / Oudin", "měřený / veg. zóna", "Oudin / veg. zóna"];

// axis ranges (R pads the data range by 4 %)
const X_DOMAIN: [number, number] = [-13.56, 379.56];
const TOP_DOMAIN: [number, number] = [0.614, 3.116];
const BOTTOM_DOMAIN: [number, number] = [-0.0171, 0.4694];

const rows = (pts: [number, number][]) => pts.map(([d, v]) => ({ d, v }));

function XTick({ x, payload, baseline }: any) {
  return (
    <text x={x} y={baseline} textAnchor="middle" fontFamily={FONT} fontSize={27} fill="#000">
      {payload.value}
    </text>
  );
}

function YTick({ y, payload }: any) {
  const bx = 67;
  return (
    <text x={bx} y={y} transform={`rotate(-90 ${bx} ${y})`} textAnchor="middle" fontFamily={FONT} fontSize={27} fill="#000">
      {Number(payload.value).toFixed(1)}
    </text>
  );
}

function XTitle({ text, baseline }: any) {
  return (
    <text x={611} y={baseline} textAnchor="middle" fontFamily={FONT} fontSize={29} fill="#000">
      {text}
    </text>
  );
}

function YTitle({ text, cy }: any) {
  const bx = 34;
  return (
    <text x={bx} y={cy} transform={`rotate(-90 ${bx} ${cy})`} textAnchor="middle" fontFamily={FONT} fontSize={29} fill="#000">
      {text}
    </text>
  );
}

function TopLegend() {
  const styles = [
    { color: GREEN, width: 3, dash: undefined },
    { color: BLUE, width: 1.4, dash: undefined },
    { color: RED, width: 1.5, dash: "2 2" },
  ];
  return (
    <svg width={424} height={126} style={{ display: "block" }}>
      <rect x={1} y={1} width={440} height={124} fill="#fff" stroke={INK} strokeWidth={2} />
      {topLegendLabels.map((label, i) => (
        <g key={label}>
          <line x1={24} x2={71} y1={31 + i * 31.6} y2={31 + i * 31.6} stroke={styles[i].color} strokeWidth={styles[i].width} strokeDasharray={styles[i].dash} />
          <text x={94} y={43 + i * 31} fontFamily={FONT} fontSize={26} fill="#000">
            {label}
          </text>
        </g>
      ))}
    </svg>
  );
}

function BottomLegend() {
  const items = [
    { color: BLUE, width: 1.4, dash: undefined, x1: 23, x2: 72, tx: 93 },
    { color: RED, width: 1.5, dash: "2 2", x1: 335, x2: 381, tx: 406.5 },
    { color: GREEN, width: 3, dash: undefined, x1: 648, x2: 698, tx: 718 },
  ];
  return (
    <svg width={951} height={64} style={{ display: "block" }}>
      <rect x={1} y={1} width={949} height={62} fill="#fff" stroke={INK} strokeWidth={2} />
      {bottomLegendLabels.map((label, i) => (
        <g key={label}>
          <line x1={items[i].x1} x2={items[i].x2} y1={33.4} y2={33.4} stroke={items[i].color} strokeWidth={items[i].width} strokeDasharray={items[i].dash} />
          <text x={items[i].tx} y={42} fontFamily={FONT} fontSize={26} fill="#000">
            {label}
          </text>
        </g>
      ))}
    </svg>
  );
}

const tickLine = { stroke: INK, strokeWidth: 2 };

export default function App() {
  return (
    <div style={{ position: "absolute", left: 0, top: 0, width: 1129, height: 1189, overflow: "hidden", background: "#fff" }}>
      {/* main title */}
      <svg width={1129} height={60} style={{ position: "absolute", left: 0, top: 0 }}>
        <text x={611} y={37} textAnchor="middle" fontFamily={FONT} fontWeight="bold" fontSize={27} fill="#000">
          0141 - Úpa
        </text>
      </svg>

      {/* top panel */}
      <div style={{ position: "absolute", left: 0, top: 0 }}>
        <LineChart width={1150} height={600} margin={{ top: 61, right: 13, left: 0, bottom: 0 }}>
          <XAxis
            dataKey="d"
            type="number"
            domain={X_DOMAIN}
            allowDataOverflow
            ticks={xTicks}
            interval={0}
            height={92}
            axisLine={false}
            tickLine={tickLine}
            tickSize={9}
            tick={<XTick baseline={543} />}
            label={<XTitle text="dlouhodobý denní průměr" baseline={578} />}
          />
          <YAxis
            type="number"
            domain={TOP_DOMAIN}
            allowDataOverflow
            ticks={topYTicks}
            interval={0}
            width={85}
            axisLine={false}
            tickLine={tickLine}
            tickSize={9}
            tick={<YTick />}
            label={<YTitle text="odtok [mm]" cy={284.5} />}
          />
          <Line data={rows(measured)} dataKey="v" name={topLegendLabels[0]} type="linear" stroke={GREEN} strokeWidth={3} dot={false} activeDot={false} isAnimationActive={false} strokeLinejoin="round" />
          <Line data={rows(modelVeg)} dataKey="v" name={topLegendLabels[1]} type="linear" stroke={BLUE} strokeWidth={1.3} dot={false} activeDot={false} isAnimationActive={false} />
          <Line data={rows(modelOudin)} dataKey="v" name={topLegendLabels[2]} type="linear" stroke={RED} strokeWidth={1.5} strokeDasharray="2 2" dot={false} activeDot={false} isAnimationActive={false} />
          <ReferenceArea x1={X_DOMAIN[0]} x2={X_DOMAIN[1]} y1={TOP_DOMAIN[0]} y2={TOP_DOMAIN[1]} fill="none" stroke={INK} strokeWidth={2} ifOverflow="visible" />
          <Legend
            layout="vertical"
            align="center"
            verticalAlign="middle"
            wrapperStyle={{ left: 714, top: 61, width: 424, height: 126 }}
            content={() => <TopLegend />}
          />
        </LineChart>
      </div>

      {/* bottom panel */}
      <div style={{ position: "absolute", left: 0, top: 600 }}>
        <LineChart width={1150} height={589} margin={{ top: 13.3, right: 13, left: 0, bottom: 0 }}>
          <XAxis
            dataKey="d"
            type="number"
            domain={X_DOMAIN}
            allowDataOverflow
            ticks={xTicks}
            interval={0}
            height={75.7}
            axisLine={false}
            tickLine={tickLine}
            tickSize={9}
            tick={<XTick baseline={547.5} />}
            label={<XTitle text="dlouhodobý denní průměr" baseline={582} />}
          />
          <YAxis
            type="number"
            domain={BOTTOM_DOMAIN}
            allowDataOverflow
            ticks={bottomYTicks}
            interval={0}
            width={85}
            axisLine={false}
            tickLine={tickLine}
            tickSize={9}
            tick={<YTick />}
            label={<YTitle text="prům. rel. odchylka (MRE) [-]" cy={263.3} />}
          />
          <Line data={rows(mreMeasOudin)} dataKey="v" name={bottomLegendLabels[0]} type="linear" stroke={BLUE} strokeWidth={1.3} dot={false} activeDot={false} isAnimationActive={false} />
          <Line data={rows(mreMeasVeg)} dataKey="v" name={bottomLegendLabels[1]} type="linear" stroke={RED} strokeWidth={1.5} strokeDasharray="2 2" dot={false} activeDot={false} isAnimationActive={false} />
          <Line data={rows(mreOudinVeg)} dataKey="v" name={bottomLegendLabels[2]} type="linear" stroke={GREEN} strokeWidth={3} dot={false} activeDot={false} isAnimationActive={false} strokeLinejoin="round" />
          <ReferenceArea x1={X_DOMAIN[0]} x2={X_DOMAIN[1]} y1={BOTTOM_DOMAIN[0]} y2={BOTTOM_DOMAIN[1]} fill="none" stroke={INK} strokeWidth={2} ifOverflow="visible" />
          <Legend
            layout="vertical"
            align="center"
            verticalAlign="middle"
            wrapperStyle={{ left: 137, top: 13.3, width: 951, height: 64 }}
            content={() => <BottomLegend />}
          />
        </LineChart>
      </div>
    </div>
  );
}
